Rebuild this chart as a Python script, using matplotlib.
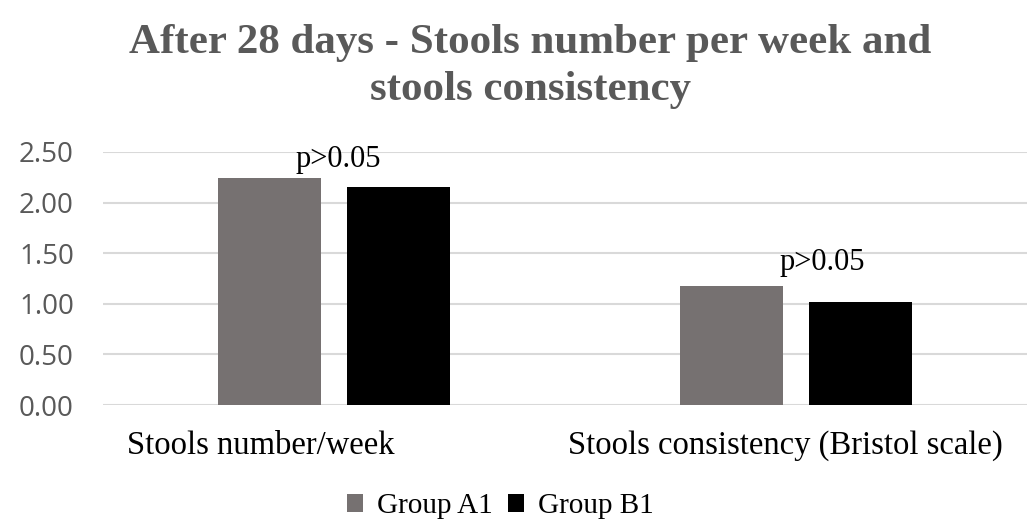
import numpy as np
import matplotlib.pyplot as plt

# dados
categorias = ["Stools number/week", "Stools consistency (Bristol scale)"]
grupos = ["Group A1", "Group B1"]
valores_a1 = [2.24, 1.18]
valores_b1 = [2.15, 1.02]
p_textos = ["p>0.05", "p>0.05"]
p_alturas = [2.43, 1.41]
p_offsets = [0.009, 0.056]
rotulo_offsets = [-0.158, -0.022]

cores = ["#767171", "#000000"]
serif = ["Liberation Serif", "DejaVu Serif"]

fig = plt.figure(figsize=(10.3, 5.24), dpi=100)
ax = fig.add_axes([0.1, 0.227, 0.897, 0.483])

x = np.arange(len(categorias))
largura = 0.223
sep = 0.058
ax.bar(x - (largura + sep) / 2, valores_a1, largura, color=cores[0], label=grupos[0], zorder=3)
ax.bar(x + (largura + sep) / 2, valores_b1, largura, color=cores[1], label=grupos[1], zorder=3)

for i, (t, h) in enumerate(zip(p_textos, p_alturas)):
    ax.text(x[i] + p_offsets[i], h, t, ha="center", va="center", fontsize=22,
            family=serif, color="#000000", zorder=4)

ax.set_xlim(-0.5, 1.5)
ax.set_ylim(0, 2.5)
ax.set_yticks(np.arange(0, 2.51, 0.5))
ax.set_yticklabels([f"{v:.2f}" for v in np.arange(0, 2.51, 0.5)])
ax.set_xticks(x + np.array(rotulo_offsets))
ax.set_xticklabels(categorias, family=serif, fontsize=23.5, color="#000000")
ax.tick_params(axis="y", labelsize=20, colors="#595959", length=0, pad=21)
ax.tick_params(axis="x", length=0, pad=18)
for lbl in ax.get_yticklabels():
    lbl.set_family(["Open Sans", "DejaVu Sans"])

ax.grid(axis="y", color="#d9d9d9", linewidth=1.5, zorder=0)
for s in ax.spines.values():
    s.set_visible(False)

fig.suptitle("After 28 days - Stools number per week and\nstools consistency",
             x=0.515, y=0.955, fontsize=31, fontweight="bold", family=serif,
             color="#595959", linespacing=1.32)

ax.legend(loc="center", bbox_to_anchor=(0.43, -0.40), ncol=2, frameon=False,
          prop={"family": serif, "size": 21}, handlelength=0.55, handleheight=0.55,
          handletextpad=0.5, columnspacing=0.5)

fig.savefig("out.png", dpi=100)
